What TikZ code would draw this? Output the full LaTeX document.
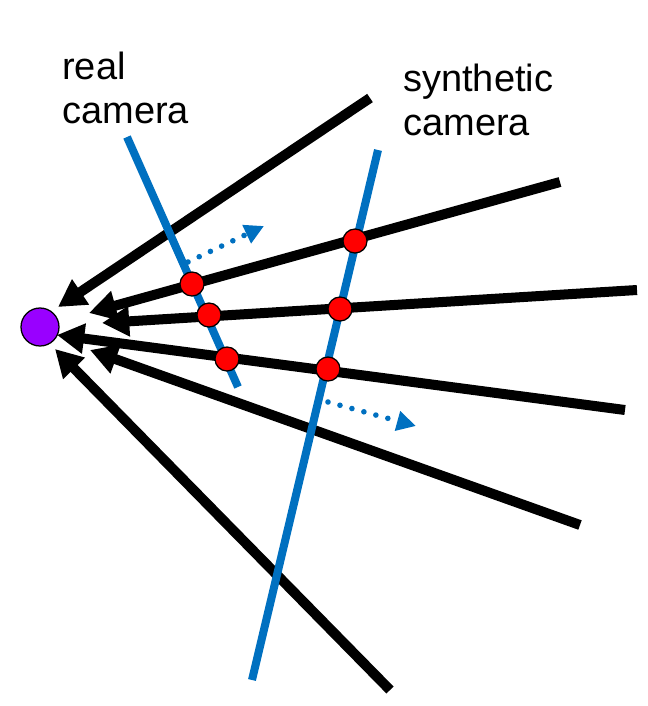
\documentclass[tikz,border=0pt]{standalone}
\usepackage{fontspec}
\setmainfont{Liberation Sans}
\usetikzlibrary{arrows.meta}
\definecolor{camblue}{RGB}{0,112,192}
\definecolor{eyepurple}{RGB}{153,0,255}
\begin{document}
\begin{tikzpicture}[x=0.025cm, y=-0.025cm,
    ray/.style={line width=0.25cm, -{Triangle[length=0.68cm, width=0.72cm]}},
    cam/.style={line width=0.2cm, camblue},
    hit/.style={circle, draw=black, line width=0.9pt, fill=red, minimum size=0.6cm, inner sep=0pt},
    move/.style={camblue, line width=0.14cm, line cap=round, dash pattern=on 0pt off 0.31cm,
      -{Triangle[length=0.48cm, width=0.48cm]}},
    caption/.style={anchor=north west, inner sep=0pt, align=left,
      font=\fontsize{27}{31}\selectfont}]
  \useasboundingbox (0,0) rectangle (648,706);

  % 1. The eye and the far ends of the rays
  \node[circle, draw=black, line width=0.9pt, fill=eyepurple, minimum size=0.95cm, inner sep=0pt] (eye) at (40,327) {};
  \coordinate (r1) at (370,98);
  \coordinate (r2) at (560,182);
  \coordinate (r3) at (637,290);
  \coordinate (r4) at (625,410);
  \coordinate (r5) at (580,525);
  \coordinate (r6) at (390,690);

  % 2. Where the arrow tips stop, short of the eye
  \coordinate (t1) at (58,307);
  \coordinate (t2) at (89,313);
  \coordinate (t3) at (102,323);
  \coordinate (t4) at (57,335);
  \coordinate (t5) at (90,350);
  \coordinate (t6) at (55,349);

  % 3. The rays
  \foreach \i in {1,...,6}
    \draw[ray] (r\i) -- (t\i);

  % 4. The two image planes
  \coordinate (realtop) at (127,137);
  \coordinate (realbot) at (238,387);
  \coordinate (syntop) at (378,150);
  \coordinate (synbot) at (252,680);
  \draw[cam] (realtop) -- (realbot);
  \draw[cam] (syntop) -- (synbot);

  % 5. The hits on each plane
  \node[hit] (a1) at (192,284) {};
  \node[hit] (a2) at (209,315) {};
  \node[hit] (a3) at (227,359) {};
  \node[hit] (b1) at (355,241) {};
  \node[hit] (b2) at (340,309) {};
  \node[hit] (b3) at (328,369) {};

  % 6. The dotted motion arrows
  \coordinate (m1) at (188,262);
  \coordinate (n1) at (264,226);
  \coordinate (m2) at (328,402);
  \coordinate (n2) at (416,426);
  \draw[move] (m1) -- (n1);
  \draw[move] (m2) -- (n2);

  % 7. The labels
  \node[caption] (realcam) at (62,52) {real\\camera};
  \node[caption] (syncam) at (403,64) {synthetic\\camera};
\end{tikzpicture}
\end{document}
